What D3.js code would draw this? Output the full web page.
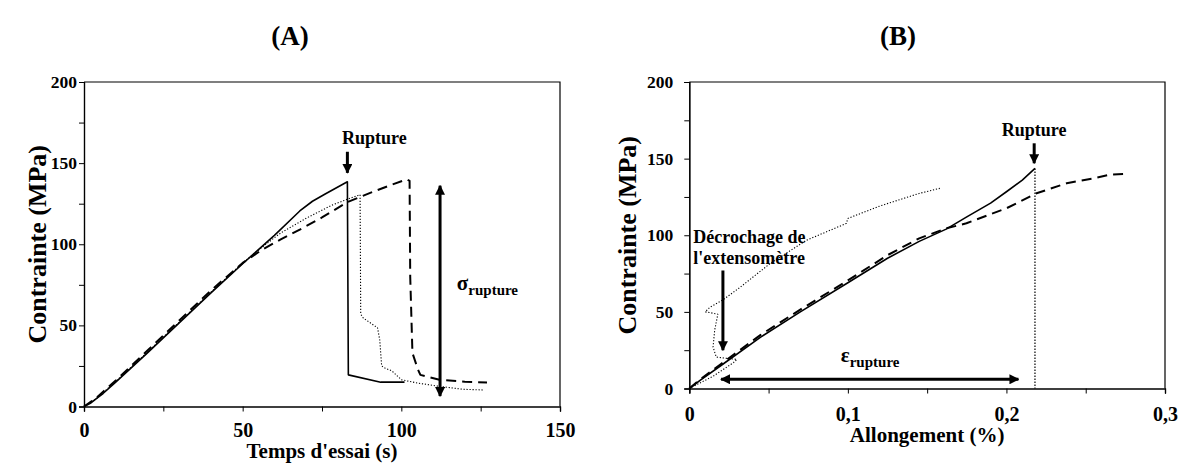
<!DOCTYPE html>
<html><head><meta charset="utf-8">
<script src="https://cdn.jsdelivr.net/npm/d3@7"></script>
<style>
body{margin:0;background:#fff}
text{font-family:"Liberation Serif","Times New Roman",serif;font-weight:bold;fill:#000}
</style>
</head><body><svg id="c" width="1179" height="463"></svg>
<script>
// ---------- data ----------
const timeTicks=[0,50,100,150];
const timeMinor=[25,75,125];
const stressTicks=[0,50,100,150,200];
const stressMinor=[25,75,125,175];
const strainTicks=[0,0.1,0.2,0.3];
const strainMinor=[0.05,0.15,0.25];

// Panel A : stress (MPa) vs time (s)
const aSolid=[[0,0],[2,2],[4,5],[6,8],[10,15],[20,33],[30,51.5],[40,70],[50,88],[60,105.5],[68,120.5],[72,126.5],[76,131],[83,138.5],[83.3,19.5],[93.5,15],[101,15]];
const aDashed=[[0,0],[4,5.5],[10,16],[20,34.5],[30,53],[40,71.5],[50,88.5],[56,96.5],[62,103],[68,109],[75,116.5],[83,126],[90,131.5],[96,136],[101.7,140],[102.6,139],[102.8,80],[103.5,33],[105.2,23],[106,19.5],[112,16.5],[120,15.3],[127,14.8]];
const aDotted=[[0,0],[4,5],[10,15.5],[20,33.5],[30,52],[40,70.5],[50,88.5],[56,98],[62,107],[70,116],[78,124],[84,128.5],[87,130.5],[87.2,57],[88,54.5],[92.5,48.5],[93.2,41],[93.8,25],[95,23.5],[97,22],[100,16.5],[105,14.5],[111,12.7],[119.5,10.6],[125.8,10.2]];

// Panel B : stress (MPa) vs elongation (%)
const bSolid=[[0,0],[0.007,5.4],[0.02,15],[0.045,33.5],[0.07,50],[0.1,69],[0.125,85],[0.145,96],[0.162,104],[0.175,112],[0.19,121],[0.2,128.4],[0.21,136],[0.218,143.6]];
const bDashed=[[0,0],[0.007,6],[0.02,16],[0.045,35],[0.07,51.5],[0.1,70.5],[0.125,87],[0.145,98],[0.162,104.5],[0.1748,107.8],[0.2,117.6],[0.219,127.4],[0.238,133.9],[0.255,137.2],[0.265,139.5],[0.275,140]];
const bDotted=[[0,0],[0.015,8],[0.028,17],[0.03,19],[0.025,19.5],[0.017,20.5],[0.015,27],[0.016,38],[0.018,48.5],[0.013,49.5],[0.01,50],[0.013,53],[0.021,57.7],[0.032,66],[0.051,81.6],[0.074,96.8],[0.099,107.7],[0.1,111],[0.12,119],[0.145,127.3],[0.158,130.6]];

// annotations (data units)
const ruptureA={x:83,y0:157,y1:144,tx:81.3,ty:161.5};
const sigmaA={x:112.2,y0:141,y1:1.5,tx:117.5,ty:71.5};
const ruptureB={x:0.2175,y0:160,y1:147,ty:165,vx:0.218,vy:143.6};
const epsB={y:6,x0:0.015,x1:0.2126,tx:0.0955,ty:17.5};
const decB={x:0.0212,y0:77,y1:25,tx:0.0025,ty1:95,ty2:81.2};

// ---------- drawing ----------
const svg=d3.select("#c");
svg.append("rect").attr("width",1179).attr("height",463).attr("fill","#fff");
const defs=svg.append("defs");
function mk(id,orient){
  defs.append("marker").attr("id",id).attr("viewBox","0 0 10 10").attr("refX",9).attr("refY",5)
    .attr("markerWidth",10).attr("markerHeight",10).attr("markerUnits","userSpaceOnUse")
    .attr("orient",orient).append("path").attr("d","M0,0L10,5L0,10Z").attr("fill","#000");
}
mk("arr","auto");mk("arrS","auto-start-reverse");

const styles={
  solid:{w:1.6,dash:null},
  dashed:{w:2,dash:"10,6"},
  dotted:{w:1.1,dash:"1.2,1.8"}
};

function panel(cfg){
  const g=svg.append("g");
  const x=d3.scaleLinear().domain(cfg.xd).range([cfg.left,cfg.right]);
  const y=d3.scaleLinear().domain([0,200]).range([cfg.bottom,cfg.top]);
  g.append("path").attr("d",`M${x(cfg.xd[0])},${y(200)}H${x(cfg.xd[1])}V${y(0)}`)
    .attr("fill","none").attr("stroke","#000").attr("stroke-width",1.2);
  const xa=g.append("g").attr("transform",`translate(0,${y(0)})`)
    .call(d3.axisBottom(x).tickValues(cfg.xt).tickSize(5).tickPadding(cfg.xpad).tickFormat(cfg.fmt));
  g.append("g").attr("transform",`translate(0,${y(0)})`)
    .call(d3.axisBottom(x).tickValues(cfg.xm).tickSize(5).tickFormat(""));
  const ya=g.append("g").attr("transform",`translate(${x(0)},0)`)
    .call(d3.axisLeft(y).tickValues(stressTicks).tickSize(5).tickPadding(cfg.ypad).tickFormat(d3.format("d")));
  g.append("g").attr("transform",`translate(${x(0)},0)`)
    .call(d3.axisLeft(y).tickValues(stressMinor).tickSize(5).tickFormat(""));
  g.selectAll(".domain").attr("stroke","#000").attr("stroke-width",1.2);
  g.selectAll(".tick line").attr("stroke","#000").attr("stroke-width",1);
  g.selectAll(".tick text").style("font-family",'"Liberation Serif",serif').style("font-weight","bold").attr("fill","#000");
  xa.selectAll(".tick text").style("font-size","20px");
  ya.selectAll(".tick text").style("font-size","17.5px");
  g.append("text").attr("x",(cfg.left+cfg.right)/2).attr("y",cfg.xlabY).attr("text-anchor","middle")
    .style("font-size","21px").text(cfg.xlab);
  g.append("text").attr("transform",`translate(${cfg.ylabX},${(cfg.top+cfg.bottom)/2}) rotate(-90)`)
    .attr("text-anchor","middle").style("font-size","26px").text("Contrainte (MPa)");
  g.append("text").attr("x",cfg.titleX).attr("y",45).attr("text-anchor","middle").style("font-size","27px").text(cfg.title);
  const line=d3.line().x(d=>x(d[0])).y(d=>y(d[1]));
  cfg.series.forEach(s=>{
    const st=styles[s.style];
    g.append("path").attr("d",line(s.data)).attr("fill","none").attr("stroke","#000")
      .attr("stroke-width",st.w).attr("stroke-dasharray",st.dash).attr("stroke-linejoin","round");
  });
  return {g,x,y};
}

const A=panel({xd:[0,150],left:84,right:560,top:82,bottom:406.5,xt:timeTicks,xm:timeMinor,
  fmt:d3.format("d"),xpad:11,ypad:2,xlab:"Temps d'essai (s)",xlabY:458,ylabX:46,title:"(A)",titleX:290,
  series:[{data:aSolid,style:"solid"},{data:aDotted,style:"dotted"},{data:aDashed,style:"dashed"}]});
const B=panel({xd:[0,0.3],left:689.3,right:1165,top:82,bottom:388.5,xt:strainTicks,xm:strainMinor,
  fmt:d=>d===0?"0":String(d).replace(".",","),xpad:13,ypad:11,xlab:"Allongement (%)",xlabY:442,ylabX:636,title:"(B)",titleX:898,
  series:[{data:bSolid,style:"solid"},{data:bDotted,style:"dotted"},{data:bDashed,style:"dashed"}]});

(function(){
  const {g,x,y}=A;
  g.append("line").attr("x1",x(ruptureA.x)).attr("x2",x(ruptureA.x)).attr("y1",y(ruptureA.y0)).attr("y2",y(ruptureA.y1))
    .attr("stroke","#000").attr("stroke-width",3).attr("marker-end","url(#arr)");
  g.append("text").attr("x",x(ruptureA.tx)).attr("y",y(ruptureA.ty)).style("font-size","18px").text("Rupture");
  g.append("line").attr("x1",x(sigmaA.x)).attr("x2",x(sigmaA.x)).attr("y1",y(sigmaA.y0)+8).attr("y2",y(sigmaA.y1)-8)
    .attr("stroke","#000").attr("stroke-width",3).attr("marker-end","url(#arr)").attr("marker-start","url(#arrS)");
  const t=g.append("text").attr("x",x(sigmaA.tx)).attr("y",y(sigmaA.ty)).style("font-size","21px");
  t.append("tspan").text("σ");
  t.append("tspan").attr("dy",5).style("font-size","15px").text("rupture");
})();
(function(){
  const {g,x,y}=B;
  g.append("line").attr("x1",x(ruptureB.vx)).attr("x2",x(ruptureB.vx)).attr("y1",y(ruptureB.vy)).attr("y2",y(0))
    .attr("stroke","#000").attr("stroke-width",1.2).attr("stroke-dasharray","1.5,1.5");
  g.append("line").attr("x1",x(ruptureB.x)).attr("x2",x(ruptureB.x)).attr("y1",y(ruptureB.y0)).attr("y2",y(ruptureB.y1))
    .attr("stroke","#000").attr("stroke-width",3).attr("marker-end","url(#arr)");
  g.append("text").attr("x",x(ruptureB.x)).attr("y",y(ruptureB.ty)).attr("text-anchor","middle").style("font-size","18px").text("Rupture");
  g.append("line").attr("y1",y(epsB.y)).attr("y2",y(epsB.y)).attr("x1",x(epsB.x0)+8).attr("x2",x(epsB.x1)-8)
    .attr("stroke","#000").attr("stroke-width",3).attr("marker-end","url(#arr)").attr("marker-start","url(#arrS)");
  const t=g.append("text").attr("x",x(epsB.tx)).attr("y",y(epsB.ty)).style("font-size","21px");
  t.append("tspan").text("ε");
  t.append("tspan").attr("dy",5).style("font-size","15px").text("rupture");
  g.append("text").attr("x",x(decB.tx)).attr("y",y(decB.ty1)).style("font-size","18px").text("Décrochage de");
  g.append("text").attr("x",x(decB.tx)).attr("y",y(decB.ty2)).style("font-size","18px").text("l'extensomètre");
  g.append("line").attr("x1",x(decB.x)).attr("x2",x(decB.x)).attr("y1",y(decB.y0)).attr("y2",y(decB.y1))
    .attr("stroke","#000").attr("stroke-width",3).attr("marker-end","url(#arr)");
})();
</script></body></html>
